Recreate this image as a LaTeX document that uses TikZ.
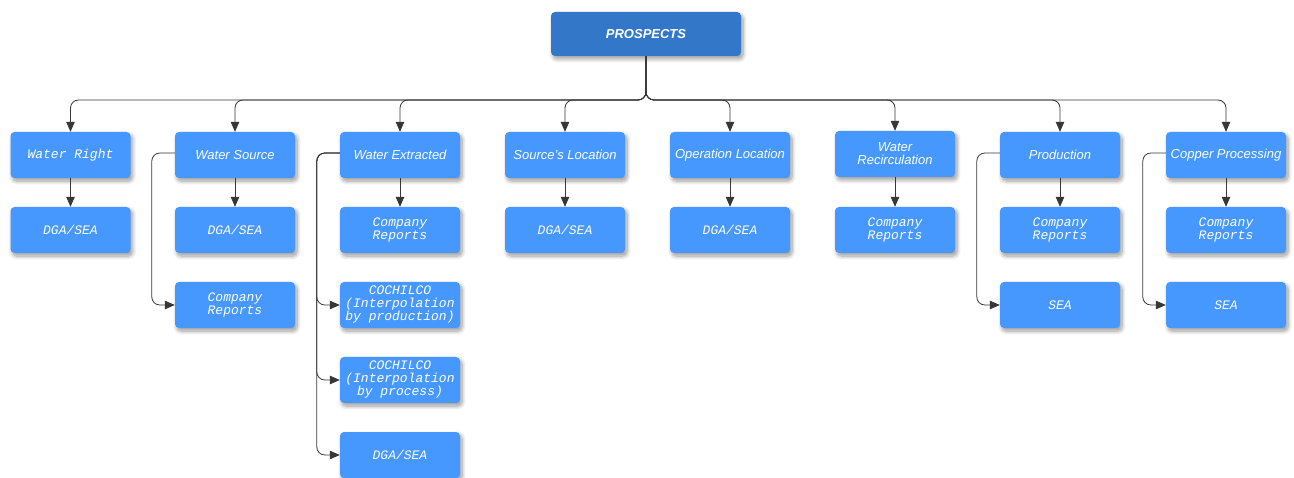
\documentclass[tikz,border=0pt]{standalone}
\usepackage{fontspec}
\setmainfont{Liberation Sans}
\setsansfont{Liberation Sans}
\setmonofont{Liberation Mono}
\usetikzlibrary{shadows,shadows.blur,arrows.meta}
\definecolor{boxblue}{RGB}{70,152,255}
\definecolor{rootblue}{RGB}{51,119,201}
\definecolor{linkgray}{RGB}{55,55,55}
\tikzset{
  card/.style={rectangle, rounded corners=4pt, fill=boxblue, draw=none,
    minimum width=120pt, minimum height=46pt, inner sep=0pt, align=center,
    text=white, font=\sffamily\itshape\fontsize{13}{13}\selectfont,
    blur shadow={shadow xshift=2pt, shadow yshift=-3pt, shadow blur radius=4pt,
      shadow opacity=40, shadow blur steps=8}},
  monocard/.style={card, font=\ttfamily\itshape\fontsize{13}{13}\selectfont},
  rootcard/.style={card, fill=rootblue, minimum width=190pt, minimum height=44pt,
    font=\sffamily\bfseries\itshape\fontsize{13}{13}\selectfont},
  link/.style={draw=linkgray, line width=0.8pt, rounded corners=8pt,
    -{Triangle[length=10pt,width=8.5pt]}},
}
\begin{document}
\begin{tikzpicture}[x=1pt,y=-1pt]
\useasboundingbox (0,0) rectangle (1294,478);

% root
\node[rootcard] (root) at (646,34) {PROSPECTS};

% first level
\node[monocard] (wr)  at (70.5,155) {Water Right};
\node[card]     (ws)  at (235,155)  {Water Source};
\node[card]     (we)  at (400,155)  {Water Extracted};
\node[card]     (sl)  at (565,155)  {Source's Location};
\node[card]     (ol)  at (730,155)  {Operation Location};
\node[card]     (wrc) at (895,154)  {Water\\Recirculation};
\node[card]     (pr)  at (1060,155) {Production};
\node[card]     (cp)  at (1226,155) {Copper Processing};

% second level
\node[monocard] (wr1)  at (70.5,230) {DGA/SEA};
\node[monocard] (ws1)  at (235,230)  {DGA/SEA};
\node[monocard] (ws2)  at (235,305)  {Company\\Reports};
\node[monocard] (we1)  at (400,230)  {Company\\Reports};
\node[monocard] (we2)  at (400,305)  {COCHILCO\\(Interpolation\\by production)};
\node[monocard] (we3)  at (400,380)  {COCHILCO\\(Interpolation\\by process)};
\node[monocard] (we4)  at (400,455)  {DGA/SEA};
\node[monocard] (sl1)  at (565,230)  {DGA/SEA};
\node[monocard] (ol1)  at (730,230)  {DGA/SEA};
\node[monocard] (wrc1) at (895,230)  {Company\\Reports};
\node[monocard] (pr1)  at (1060,230) {Company\\Reports};
\node[monocard] (pr2)  at (1060,305) {SEA};
\node[monocard] (cp1)  at (1226,230) {Company\\Reports};
\node[monocard] (cp2)  at (1226,305) {SEA};

% bus from the root to the first level
\coordinate (bus) at (646,100);
\foreach \c in {wr,ws,we,sl,ol,wrc,pr,cp}
  \draw[link] (root.south) -- (bus) -| (\c.north);

% straight drops to the first child
\foreach \p/\c in {wr/wr1,ws/ws1,we/we1,sl/sl1,ol/ol1,wrc/wrc1,pr/pr1,cp/cp1}
  \draw[link] (\p.south) -- (\c.north);

% side rails to the further children
\foreach \p/\c in {ws/ws2,we/we2,we/we3,we/we4,pr/pr2,cp/cp2}
  \draw[link] ([yshift=2pt]\p.west) -- ++(-23,0) |- (\c.west);
\end{tikzpicture}
\end{document}
